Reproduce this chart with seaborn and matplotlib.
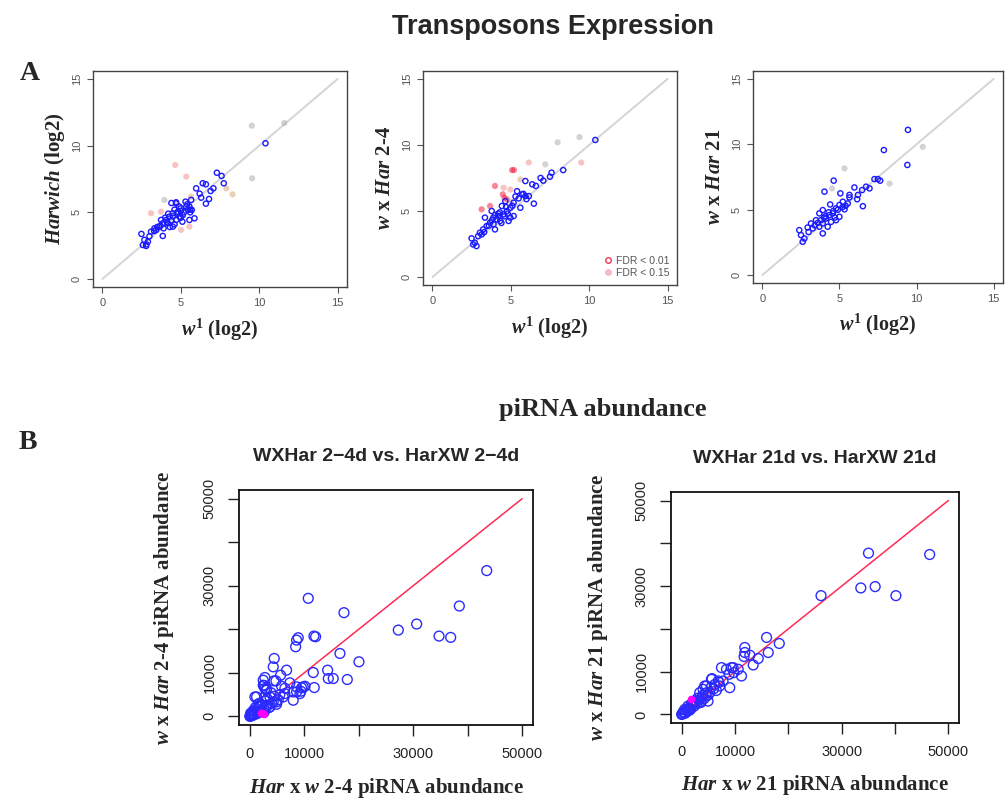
import numpy as np
import pandas as pd
import matplotlib
matplotlib.use("Agg")
import matplotlib.pyplot as plt
import seaborn as sns
from matplotlib.lines import Line2D

sns.set_style("white")
plt.rcParams['font.family'] = ['Liberation Sans', 'DejaVu Sans']
plt.rcParams['mathtext.fontset'] = 'custom'
plt.rcParams['mathtext.rm'] = 'Liberation Serif:bold'
plt.rcParams['mathtext.it'] = 'Liberation Serif:italic:bold'
plt.rcParams['mathtext.bf'] = 'Liberation Serif:bold'

# ---------------- Data: panel A (log2 expression) ----------------
a_ticks = [0, 5, 10, 15]
a_diag = [0, 15]

a1_bx = [10.4, 7.3, 7.6, 7.74, 6.4, 6.6, 7.08, 6.9, 5.98, 6.2, 6.3, 6.8, 6.6, 5.66, 5.35, 5.55, 5.7, 5.87,
         5.55, 4.7, 4.9, 4.81, 4.49, 4.28, 4.06, 3.85, 3.64, 3.32, 3.43, 3.1, 2.49, 2.68, 2.9, 2.58, 2.79,
         3.85, 4.49, 5.13, 5.45, 4.92, 4.7, 4.17, 3.74, 4.0, 4.2, 4.4, 4.6, 4.8, 5.0, 5.2, 5.4, 4.3, 3.9,
         3.5, 4.6, 5.0, 5.6, 5.3, 4.1, 3.7, 4.5, 5.1, 4.4, 4.7, 5.0, 5.6, 3.3, 3.0, 2.8]
a1_by = [10.18, 7.97, 7.73, 7.18, 7.18, 7.1, 6.8, 6.6, 6.8, 6.4, 6.1, 6.0, 5.65, 5.93, 5.43, 5.43, 5.18, 4.55,
         4.43, 5.68, 5.43, 5.05, 4.93, 4.68, 4.43, 4.18, 3.93, 3.8, 3.68, 3.55, 3.38, 2.93, 2.8, 2.55, 2.48,
         3.23, 3.93, 4.8, 5.18, 4.68, 4.43, 4.18, 4.43, 4.6, 4.9, 4.4, 5.2, 4.9, 5.3, 5.0, 5.6, 3.9, 3.8,
         3.9, 4.1, 4.6, 5.2, 5.8, 4.3, 4.0, 4.7, 4.3, 5.7, 5.75, 5.1, 5.0, 3.6, 3.2, 2.6]
a1_cx = [9.53, 9.55, 5.35, 4.64, 7.9, 8.3, 3.1, 3.74, 5.02, 5.55, 5.66, 3.95, 4.7, 11.6]
a1_cy = [11.5, 7.55, 7.68, 8.55, 6.8, 6.35, 4.93, 5.05, 3.68, 3.93, 6.17, 5.93, 5.6, 11.7]
a1_cc = ['gray', 'gray', 'pink', 'pink', 'orange', 'orange', 'pink', 'pink', 'pink', 'pink', 'orange',
         'gray', 'orange', 'gray']

a2_bx = [10.39, 8.34, 7.6, 7.5, 6.9, 7.07, 6.37, 6.6, 5.93, 5.4, 5.72, 5.93, 6.15, 5.5, 6.47, 5.61, 5.18,
         4.97, 4.75, 4.43, 4.54, 4.21, 3.89, 4.1, 3.35, 3.68, 3.46, 3.24, 3.99, 3.14, 2.92, 2.5, 2.6, 2.81,
         3.03, 4.97, 5.18, 4.86, 4.32, 3.78, 4.65, 4.0, 4.3, 4.6, 4.4, 4.8, 5.1, 3.6, 3.8, 4.2, 5.3, 4.7,
         3.9, 5.8, 6.0, 2.7, 3.3]
a2_by = [10.38, 8.1, 7.9, 7.6, 7.5, 7.3, 7.02, 6.9, 7.27, 6.5, 6.26, 6.13, 6.13, 5.96, 5.56, 5.25, 5.63,
         5.25, 5.0, 5.38, 4.75, 4.62, 4.5, 4.37, 4.5, 4.12, 3.86, 3.61, 3.61, 3.23, 3.1, 2.93, 2.47, 2.35,
         3.36, 4.5, 4.62, 4.25, 4.25, 5.0, 5.75, 4.7, 4.9, 4.6, 4.1, 4.8, 5.4, 3.9, 4.3, 4.8, 6.1, 5.3,
         4.0, 6.3, 5.9, 2.6, 3.4]
a2_cx = [5.08, 5.2, 3.99, 4.54, 4.49, 4.75, 3.68, 3.14, 4.97, 5.61, 6.15, 7.2, 9.38, 7.98, 9.49, 4.6, 5.0]
a2_cy = [8.1, 8.1, 6.9, 6.76, 6.26, 5.88, 5.38, 5.13, 6.63, 7.39, 8.67, 8.53, 10.6, 10.2, 8.67, 6.0, 5.7]
a2_cc = ['red', 'red', 'red', 'pink', 'red', 'red', 'red', 'red', 'pink', 'orange', 'pink', 'gray', 'gray',
         'gray', 'pink', 'red', 'orange']

a3_bx = [9.44, 7.88, 9.4, 7.49, 7.64, 7.27, 4.63, 4.03, 6.95, 6.73, 6.47, 5.97, 5.65, 6.2, 5.06, 6.15, 6.52,
         5.65, 5.22, 5.54, 5.0, 4.78, 5.33, 3.92, 3.7, 4.35, 4.57, 5.0, 4.13, 3.48, 3.16, 3.92, 4.46, 3.7,
         3.27, 2.94, 2.4, 2.51, 2.73, 2.62, 3.92, 4.78, 4.24, 4.0, 4.3, 4.6, 4.9, 5.2, 3.6, 3.4, 4.1, 4.7,
         5.4, 3.0, 3.8, 4.4]
a3_by = [11.1, 9.56, 8.42, 7.34, 7.22, 7.34, 7.22, 6.38, 6.63, 6.76, 6.5, 6.7, 6.13, 6.13, 6.25, 5.8, 5.27,
         5.94, 5.61, 5.48, 5.36, 5.1, 5.03, 4.97, 4.72, 4.59, 4.72, 4.46, 4.33, 4.2, 3.95, 3.95, 4.07, 3.7,
         3.57, 3.64, 3.44, 3.06, 2.8, 2.55, 3.19, 4.2, 3.7, 4.4, 4.8, 4.9, 5.0, 5.2, 4.0, 3.8, 4.5, 4.4,
         5.3, 3.3, 4.2, 5.4]
a3_cx = [5.33, 4.52, 8.25, 10.4]
a3_cy = [8.16, 6.63, 7.0, 9.8]
a3_cc = ['gray', 'gray', 'gray', 'gray']

# ---------------- Data: panel B (piRNA abundance) ----------------
b_ticks = [0, 10000, 20000, 30000, 40000, 50000]
b_ticklabels = ['0', '10000', '', '30000', '', '50000']
b_diag = [0, 50000]

b1_x = [43500, 38470, 30630, 27260, 34740, 36880, 10720, 17280, 11760, 12070, 8880, 8580, 8400, 16540,
        20030, 11640, 14280, 14400, 15310, 17890, 11820, 4470, 4290, 4410, 4780, 2760, 2450, 6740, 5640,
        7350, 2630, 3070, 1230, 6430, 6120, 7960, 9370, 9800, 8580, 4900, 3680, 1840, 3070, 610, 310, 0,
        5820, 2450, 2760, 8580, 9500, 10110, 6430, 7960, 9190, 920, 2760, 3070, 4290, 4900, 3680, 1840,
        200, 500, 800, 1200, 1500, 1000, 2000, 2500, 3000, 3500, 1800, 600, 300, 100, 50, 400, 1500, 2800,
        4000, 3200, 700, 1300, 2200, 5200, 4500, 5500, 3900, 1000, 2600, 150]
b1_y = [33480, 25340, 21200, 19810, 18430, 18130, 27110, 23810, 18430, 18280, 18050, 17510, 15980, 14440,
        12520, 10060, 10600, 8680, 8680, 8450, 6610, 13290, 11360, 8140, 8140, 8910, 8300, 10600, 9450,
        7680, 7070, 6300, 4450, 6450, 4450, 3690, 5760, 6760, 5600, 3300, 4450, 2530, 2150, 1230, 460, 0,
        6910, 7140, 6370, 6760, 6530, 6910, 5220, 5600, 5220, 4450, 4450, 5990, 3300, 2760, 2150, 2150,
        300, 800, 500, 1500, 900, 2000, 1200, 1800, 2500, 2000, 3000, 1200, 100, 300, 50, 600, 2800, 3500,
        3000, 4000, 300, 600, 2600, 3800, 4600, 5000, 5400, 1000, 900, 700]
b1_mx = [2300, 2600, 2000]
b1_my = [800, 500, 650]

b2_x = [46500, 35030, 33590, 36280, 40170, 26130, 15920, 18300, 11840, 11840, 16230, 14350, 12780, 13410,
        7460, 8400, 9340, 10590, 8900, 9780, 11220, 5580, 6850, 7760, 9020, 4640, 4010, 3380, 5700, 7140,
        5260, 4320, 4640, 4950, 1190, 560, 0, 11700, 9650,
        200, 500, 800, 1100, 1400, 1700, 2000, 2300, 2600, 2900, 3200, 3500, 3800, 4200, 2500, 1800, 3000,
        4500, 5000, 6000, 6500, 5500, 300, 700, 1200, 2200, 4000, 3600, 6200, 7000, 100, 1500]
b2_y = [37390, 37710, 29570, 29880, 27770, 27770, 18000, 16590, 15650, 14480, 14480, 13070, 13850, 11570,
        10950, 10560, 10950, 10560, 9390, 9780, 8990, 8210, 7820, 7820, 6260, 6650, 5870, 5090, 8370, 6650,
        5090, 6650, 4300, 3130, 1960, 1170, 0, 13540, 10950,
        200, 400, 900, 800, 1500, 1300, 2200, 1900, 2800, 2500, 3400, 3000, 4100, 3700, 3200, 2400, 3800,
        5000, 4600, 6000, 5600, 6300, 600, 300, 1100, 2600, 4500, 2800, 7000, 7500, 100, 1000]
b2_mx = [1820]
b2_my = [3520]

# ---------------- Figure ----------------
fig = plt.figure(figsize=(10.05, 8.02), dpi=100)
W, H = 1005, 802


def axes_px(l, r, t, b):
    return fig.add_axes([l / W, 1 - b / H, (r - l) / W, (b - t) / H])


pal = {'red': '#ee1133', 'pink': '#f08a8a', 'orange': '#d9a070', 'gray': '#a8a8a8'}
blue = '#1a1aff'

serif = 'Liberation Serif'


def panel_a(ax, bx, by, cx, cy, cc, ylab):
    sns.lineplot(x=a_diag, y=a_diag, ax=ax, color='#d4d4d4', linewidth=1.4, zorder=1)
    sns.scatterplot(x=cx, y=cy, hue=cc, palette=pal, ax=ax, s=20, linewidth=0, alpha=0.5,
                    legend=False, zorder=2)
    sns.scatterplot(x=bx, y=by, ax=ax, s=14, facecolor='none', edgecolor=blue, linewidth=1.0,
                    zorder=3)
    ax.set_xlim(-0.6, 15.6)
    ax.set_ylim(-0.6, 15.6)
    ax.set_xticks(a_ticks)
    ax.set_yticks(a_ticks)
    ax.set_xticklabels([str(t) for t in a_ticks])
    ax.set_yticklabels([str(t) for t in a_ticks], rotation=90, va='center')
    ax.tick_params(axis='both', direction='out', length=4, width=0.8, color='#555555',
                   labelsize=8, labelcolor='#555555', pad=4, bottom=True, left=True)
    for s in ax.spines.values():
        s.set_color('#444444')
        s.set_linewidth(1.0)
    ax.set_xlabel('')
    ax.set_ylabel('')
    ax.text(0.5, -0.2, r"$\mathit{w}^{\mathit{1}}$ (log2)", transform=ax.transAxes, ha='center',
            va='center', fontsize=14.5, fontfamily=serif, fontweight='bold')
    ax.text(-0.15, 0.5, ylab, transform=ax.transAxes, ha='center', va='center', rotation=90,
            fontsize=15, fontfamily=serif, fontweight='bold')


ax1 = axes_px(93, 347, 71, 287)
panel_a(ax1, a1_bx, a1_by, a1_cx, a1_cy, a1_cc, r"$\mathit{Harwich}$ (log2)")
ax2 = axes_px(423, 677, 71, 285)
panel_a(ax2, a2_bx, a2_by, a2_cx, a2_cy, a2_cc, r"$\mathit{w}$ x $\mathit{Har}$ 2-4")
ax3 = axes_px(753, 1003, 71, 283)
panel_a(ax3, a3_bx, a3_by, a3_cx, a3_cy, a3_cc, r"$\mathit{w}$ x $\mathit{Har}$ 21")

leg_handles = [
    Line2D([], [], marker='o', linestyle='none', markersize=4, markerfacecolor='none',
           markeredgecolor='#ee3355', markeredgewidth=1.0, label='FDR < 0.01'),
    Line2D([], [], marker='o', linestyle='none', markersize=4, markerfacecolor='#f4b0b8',
           markeredgecolor='#f4b0b8', alpha=0.8, label='FDR < 0.15'),
]
ax2.legend(handles=leg_handles, loc='lower right', frameon=False, fontsize=7.5, handlelength=0.8,
           handletextpad=0.4, labelspacing=0.2, borderaxespad=0.3, labelcolor='#555555')


def panel_b(ax, x, y, mx, my, title, xlab, ylab):
    sns.lineplot(x=b_diag, y=b_diag, ax=ax, color='#ff2a55', linewidth=1.1, zorder=2)
    sns.scatterplot(x=x, y=y, ax=ax, s=50, facecolor='none', edgecolor='#2b2bff', linewidth=1.0,
                    zorder=3)
    sns.scatterplot(x=mx, y=my, ax=ax, s=30, color='#ff00ff', linewidth=0, zorder=4)
    ax.set_xlim(-2000, 52000)
    ax.set_ylim(-2000, 52000)
    ax.set_xticks(b_ticks)
    ax.set_yticks(b_ticks)
    ax.set_xticklabels(b_ticklabels)
    ax.set_yticklabels(b_ticklabels, rotation=90, va='center')
    ax.tick_params(axis='both', direction='out', length=8, width=1.0, color='#222222',
                   labelsize=10.5, labelcolor='#222222', pad=8, bottom=True, left=True)
    for s in ax.spines.values():
        s.set_color('#111111')
        s.set_linewidth(1.3)
    ax.set_xlabel('')
    ax.set_ylabel('')
    ax.set_title(title, fontsize=14, fontweight='bold', pad=21)
    ax.text(0.5, -0.27, xlab, transform=ax.transAxes, ha='center', va='center', fontsize=15,
            fontfamily=serif, fontweight='bold')
    ax.text(-0.255, 0.5, ylab, transform=ax.transAxes, ha='center', va='center', rotation=90,
            fontsize=15, fontfamily=serif, fontweight='bold')


bx1 = axes_px(239, 533, 490, 725)
panel_b(bx1, b1_x, b1_y, b1_mx, b1_my, "WXHar 2\u22124d vs. HarXW 2\u22124d",
        r"$\mathit{Har}$ x $\mathit{w}$ 2-4 piRNA abundance",
        r"$\mathit{w}$ x $\mathit{Har}$ 2-4 piRNA abundance")
bx2 = axes_px(671, 959, 492, 723)
panel_b(bx2, b2_x, b2_y, b2_mx, b2_my, "WXHar 21d vs. HarXW 21d",
        r"$\mathit{Har}$ x $\mathit{w}$ 21 piRNA abundance",
        r"$\mathit{w}$ x $\mathit{Har}$ 21 piRNA abundance")

fig.text(553 / W, 1 - 27 / H, "Transposons Expression", ha='center', va='center', fontsize=19.5,
         fontweight='bold')
fig.text(30 / W, 1 - 73 / H, "A", ha='center', va='center', fontsize=20, fontfamily=serif,
         fontweight='bold')
fig.text(603 / W, 1 - 409 / H, "piRNA abundance", ha='center', va='center', fontsize=19,
         fontfamily=serif, fontweight='bold')
fig.text(28 / W, 1 - 443 / H, "B", ha='center', va='center', fontsize=20, fontfamily=serif,
         fontweight='bold')

fig.savefig("out.png", dpi=100, facecolor='white')
